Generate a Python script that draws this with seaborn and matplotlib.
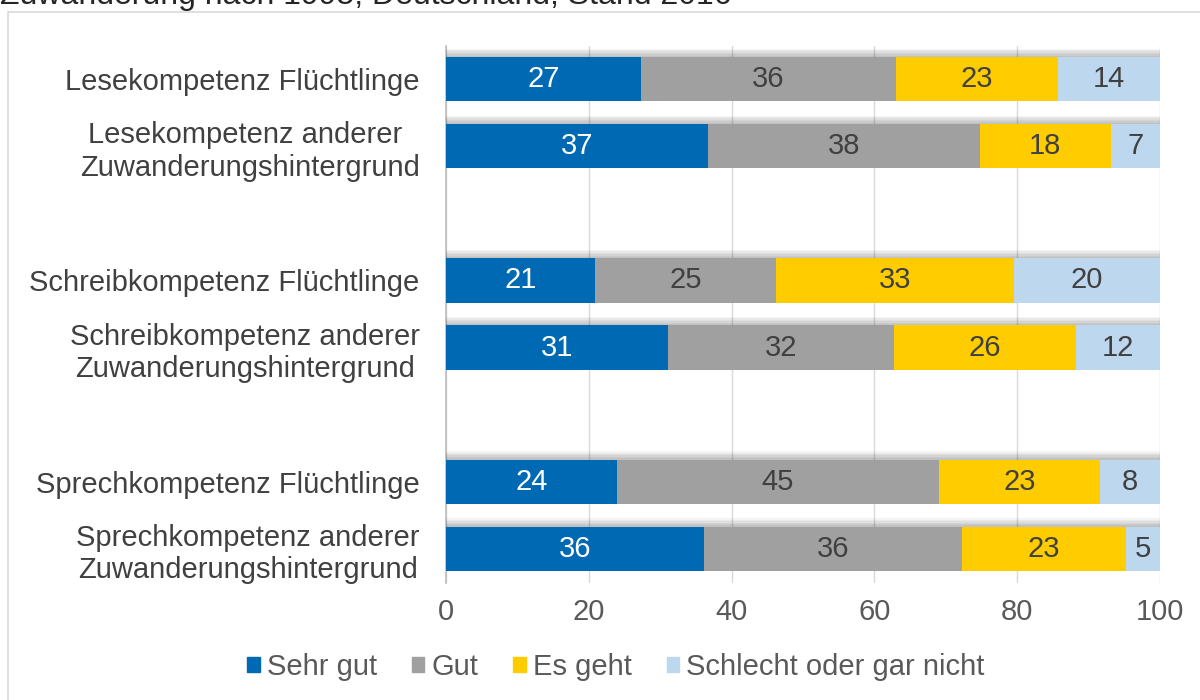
import matplotlib
matplotlib.use("Agg")
import matplotlib.pyplot as plt
import matplotlib.patheffects as pe
from matplotlib.patches import Rectangle
import numpy as np
import pandas as pd
import seaborn as sns

categories = [
    "Lesekompetenz Flüchtlinge",
    "Lesekompetenz anderer \nZuwanderungshintergrund",
    "Schreibkompetenz Flüchtlinge",
    "Schreibkompetenz anderer\nZuwanderungshintergrund",
    "Sprechkompetenz Flüchtlinge",
    "Sprechkompetenz anderer\nZuwanderungshintergrund",
]
series_names = ["Sehr gut", "Gut", "Es geht", "Schlecht oder gar nicht"]
sehr_gut = [27.3, 36.7, 20.9, 31.1, 23.9, 36.1]
gut = [35.7, 38.1, 25.3, 31.6, 45.1, 36.2]
es_geht = [22.7, 18.3, 33.4, 25.6, 22.6, 22.9]
schlecht = [14.3, 6.9, 20.4, 11.7, 8.4, 4.8]
x_ticks = [0, 20, 40, 60, 80, 100]
title = "Zuwanderung nach 1995, Deutschland, Stand 2016"

colors = ["#0069B4", "#A0A0A0", "#FFCC00", "#BDD7EE"]
text_colors = ["white", "#404040", "#404040", "#404040"]

sns.set_theme(style="white")
plt.rcParams["font.family"] = ["Liberation Sans", "DejaVu Sans"]

FS = 21

# slot order with empty gaps between groups
order = [categories[0], categories[1], " ", categories[2], categories[3], "  ", categories[4], categories[5]]

vals = np.array([sehr_gut, gut, es_geht, schlecht], dtype=float)
cum = np.cumsum(vals, axis=0)

fig = plt.figure(figsize=(12, 7), dpi=100)
ax = fig.add_axes([446 / 1200, 1 - 582.5 / 700, 714 / 1200, 537 / 700])

shadow = [pe.SimplePatchShadow(offset=(0, k), shadow_rgbFace="black", alpha=0.045) for k in range(1, 7)]
shadow.append(pe.Normal())

for i in range(3, -1, -1):
    df = pd.DataFrame({"cat": categories, "val": cum[i]})
    sns.barplot(data=df, x="val", y="cat", order=order, orient="h",
                color=colors[i], width=0.66, ax=ax, saturation=1,
                edgecolor="none", linewidth=0)

for k, p in enumerate(ax.patches):
    if k < len(categories):
        p.set_path_effects(shadow)
    p.set_zorder(2)

# segment labels
for j, cat in enumerate(categories):
    ypos = order.index(cat)
    left = 0.0
    for i in range(4):
        v = vals[i, j]
        ax.text(left + v / 2, ypos, f"{round(v):d}",
                ha="center", va="center", color=text_colors[i], fontsize=FS, zorder=5)
        left += v

ax.set_xlim(0, 100)
ax.set_ylim(7.5, -0.5)
ax.set_xticks(x_ticks)
ax.set_xticklabels([str(t) for t in x_ticks])
ax.set_yticks(range(len(order)))
ax.set_yticklabels(order, multialignment="center")
ax.set_xlabel("")
ax.set_ylabel("")
ax.tick_params(axis="x", labelsize=FS, labelcolor="#595959", length=0, pad=11)
ax.tick_params(axis="y", labelsize=FS, labelcolor="#404040", length=0, pad=19)
ax.grid(axis="x", color="#d9d9d9", linewidth=1)
ax.set_axisbelow(True)
for s in ["top", "right", "bottom"]:
    ax.spines[s].set_visible(False)
ax.spines["left"].set_color("#bfbfbf")
ax.spines["left"].set_zorder(1)

handles = [Rectangle((0, 0), 1, 1, color=c) for c in colors]
leg = fig.legend(handles, series_names, loc="center", bbox_to_anchor=(616 / 1200, 1 - 667 / 700),
                 ncol=4, frameon=False, fontsize=FS, handlelength=0.42, handleheight=0.42,
                 handletextpad=0.25, columnspacing=1.2)
for t in leg.get_texts():
    t.set_color("#595959")

fig.text(0.0, 1 - 4 / 700, title, ha="left", va="baseline", fontsize=23, color="#262626")
fig.patches.append(Rectangle((8 / 1200, -0.1), 1.2, 1 - 12 / 700 + 0.1, transform=fig.transFigure,
                             fill=False, edgecolor="#d9d9d9", linewidth=1.2))

fig.savefig("out.png", dpi=100)
